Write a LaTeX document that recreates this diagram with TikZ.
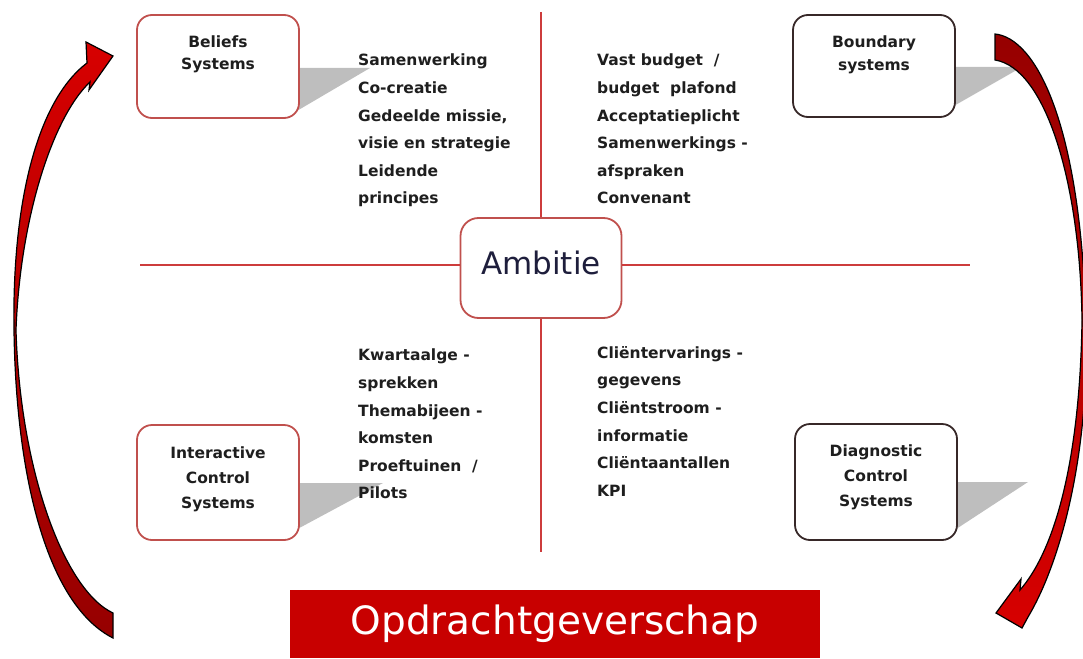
\documentclass[tikz,border=0pt]{standalone}
\usepackage{fontspec}
\setmainfont{DejaVu Sans}
\definecolor{boxred}{RGB}{192,80,77}
\definecolor{boxdark}{RGB}{55,40,40}
\definecolor{axisred}{RGB}{205,60,60}
\definecolor{bannerred}{RGB}{200,0,0}
\definecolor{arrowred}{RGB}{215,0,0}
\definecolor{arrowdark}{RGB}{150,0,0}
\definecolor{calloutgray}{RGB}{190,190,190}
\definecolor{ambitieblue}{RGB}{30,30,60}
\definecolor{itemgray}{RGB}{30,30,30}
\tikzset{
  sysbox/.style={draw=#1,line width=1.8pt,rounded corners=15pt,fill=white,minimum width=162pt,inner sep=0pt},
  boxlabel/.style={anchor=north,align=center,inner sep=0pt,text=itemgray,font=\bfseries\fontsize{15.5}{#1}\selectfont},
  itemlist/.style={anchor=north west,align=left,inner sep=0pt,text=itemgray,font=\bfseries\fontsize{15.5}{27.6}\selectfont},
  axisline/.style={draw=axisred,line width=1.6pt}
}
\begin{document}
\begin{tikzpicture}[x=1pt,y=1pt,yscale=-1,xscale=1]
\useasboundingbox (0,0) rectangle (1083,658);

%Callout shadows
\fill[calloutgray] (290,68) -- (370,68) -- (290,115) -- cycle;
\fill[calloutgray] (945,67) -- (1022,67) -- (945,111) -- cycle;
\fill[calloutgray] (290,483) -- (383,483) -- (290,533) -- cycle;
\fill[calloutgray] (947,482) -- (1028,482) -- (947,535) -- cycle;

%Centre node and axes
\node[draw=boxred,line width=1.8pt,rounded corners=18pt,fill=white,minimum width=161pt,minimum height=100pt,text=ambitieblue,text depth=10pt,font=\fontsize{31}{36}\selectfont] (ambitie) at (541,268) {Ambitie};
\coordinate (vtop) at (541,12);
\coordinate (vbot) at (541,552);
\coordinate (hleft) at (140,265);
\coordinate (hright) at (970,265);
\draw[axisline] (vtop) -- (ambitie);
\draw[axisline] (ambitie) -- (vbot);
\draw[axisline] (hleft) -- (hleft -| ambitie.west);
\draw[axisline] (hright -| ambitie.east) -- (hright);

%System boxes
\node[sysbox=boxred,minimum height=103pt] (beliefs) at (218,66.5) {};
\node[boxlabel=22] (beliefslbl) at (218,36) {Beliefs\\Systems};
\node[sysbox=boxdark,minimum height=102pt] (boundary) at (874,66) {};
\node[boxlabel=23] (boundarylbl) at (874,36) {Boundary\\systems};
\node[sysbox=boxred,minimum height=115pt] (interactive) at (218,482.5) {};
\node[boxlabel=25] (interactivelbl) at (218,447) {Interactive\\Control\\Systems};
\node[sysbox=boxdark,minimum height=116pt] (diagnostic) at (876,482) {};
\node[boxlabel=25] (diagnosticlbl) at (876,445) {Diagnostic\\Control\\Systems};

%Item lists
\node[itemlist] (beliefsitems) at (358,54) {Samenwerking\\Co-creatie\\Gedeelde missie,\\visie en strategie\\Leidende\\principes};
\node[itemlist] (boundaryitems) at (597,54) {Vast budget \ /\\budget \ plafond\\Acceptatieplicht\\Samenwerkings -\\afspraken\\Convenant};
\node[itemlist] (interactiveitems) at (358,349) {Kwartaalge -\\sprekken\\Themabijeen -\\komsten\\Proeftuinen \ /\\Pilots};
\node[itemlist] (diagnosticitems) at (597,346) {Cliëntervarings -\\gegevens\\Cliëntstroom -\\informatie\\Cliëntaantallen\\KPI};

%Banner
\node[fill=bannerred,minimum width=530pt,minimum height=68pt,inner sep=0pt,text=white,font=\fontsize{39}{44}\selectfont] (opdracht) at (555,624) {Opdrachtgeverschap};

%Curved arrows
\path[draw=black,line width=1.2pt,top color=arrowred,middle color=arrowdark!50!black,bottom color=arrowdark]
  (113,638) .. controls (48,605) and (16,480) .. (14,330)
  .. controls (12,200) and (38,100) .. (87,63)
  -- (86,42) -- (113,56) -- (89,90) -- (90,82)
  .. controls (52,118) and (20,220) .. (16,330)
  .. controls (20,470) and (64,590) .. (113,613) -- cycle;
\path[draw=black,line width=1.2pt,top color=arrowdark,middle color=arrowdark!60!black,bottom color=arrowred]
  (995,34) .. controls (1035,38) and (1080,120) .. (1086,320)
  .. controls (1090,450) and (1062,560) .. (1028,617)
  -- (1022,628) -- (996,613) -- (1021,579) -- (1020,590)
  .. controls (1055,550) and (1080,460) .. (1082,320)
  .. controls (1080,180) and (1045,68) .. (995,60) -- cycle;

\end{tikzpicture}
\end{document}
